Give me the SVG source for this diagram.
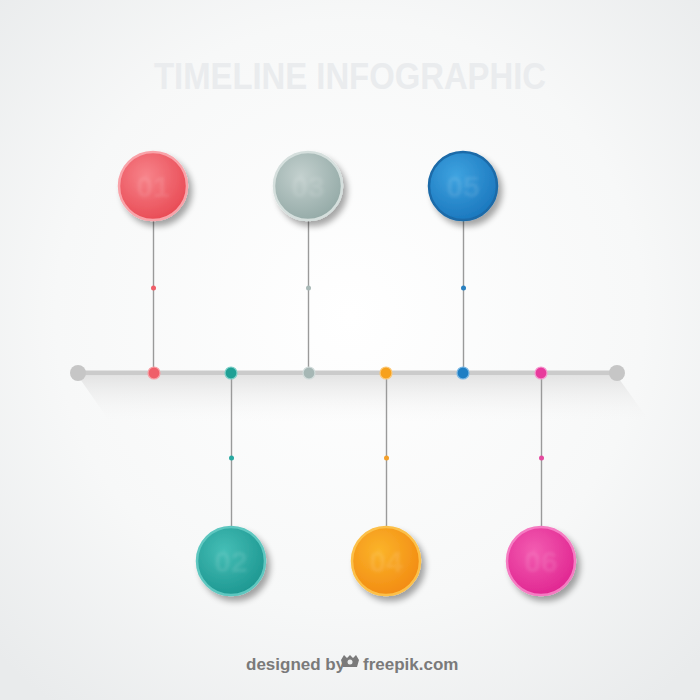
<svg xmlns="http://www.w3.org/2000/svg" width="700" height="700" viewBox="0 0 700 700">
<defs>
<radialGradient id="bg" cx="0.5" cy="0.45" r="0.7">
<stop offset="0" stop-color="#ffffff"/>
<stop offset="0.6" stop-color="#f7f8f8"/>
<stop offset="1" stop-color="#e9ebec"/>
</radialGradient>
<linearGradient id="shadowG" x1="0" y1="0" x2="0" y2="1">
<stop offset="0" stop-color="#e0e0e0"/>
<stop offset="1" stop-color="#f6f6f6" stop-opacity="0"/>
</linearGradient>
<filter id="sh" x="-30%" y="-30%" width="170%" height="170%">
<feGaussianBlur in="SourceAlpha" stdDeviation="3"/>
<feOffset dx="4" dy="5"/>
<feComponentTransfer><feFuncA type="linear" slope="0.35"/></feComponentTransfer>
<feMerge><feMergeNode/><feMergeNode in="SourceGraphic"/></feMerge>
</filter>
<filter id="blur1"><feGaussianBlur stdDeviation="1.5"/></filter>
<radialGradient id="gRed" cx="0.4" cy="0.35" r="0.7"><stop offset="0" stop-color="#f7838a"/><stop offset="1" stop-color="#e84953"/></radialGradient>
<radialGradient id="gGray" cx="0.4" cy="0.35" r="0.7"><stop offset="0" stop-color="#c3d0ce"/><stop offset="1" stop-color="#93a9a6"/></radialGradient>
<radialGradient id="gBlue" cx="0.4" cy="0.35" r="0.7"><stop offset="0" stop-color="#3ea3e0"/><stop offset="1" stop-color="#1a76bd"/></radialGradient>
<radialGradient id="gTeal" cx="0.4" cy="0.35" r="0.7"><stop offset="0" stop-color="#45beb6"/><stop offset="1" stop-color="#1c9690"/></radialGradient>
<radialGradient id="gOrange" cx="0.4" cy="0.35" r="0.7"><stop offset="0" stop-color="#fbb42a"/><stop offset="1" stop-color="#f28a12"/></radialGradient>
<radialGradient id="gPink" cx="0.4" cy="0.35" r="0.7"><stop offset="0" stop-color="#f35cb1"/><stop offset="1" stop-color="#e02490"/></radialGradient>
</defs>
<style>
.title{font-family:"Liberation Sans",Arial,sans-serif;font-weight:bold;font-size:36px;fill:#eaecee;}
.num{font-family:"Liberation Sans",Arial,sans-serif;font-weight:bold;font-size:30px;fill:#ffffff;fill-opacity:0.1;text-anchor:middle;}
.stem{stroke:#9a9a9a;stroke-width:1.4;fill:none;}
.foot{font-family:"Liberation Sans",Arial,sans-serif;font-weight:bold;font-size:17px;fill:#7a7a7a;}
.rim{stroke-width:2.5;}
</style>
<rect width="700" height="700" fill="url(#bg)"/>
<text class="title" x="350" y="89" text-anchor="middle" textLength="392" lengthAdjust="spacingAndGlyphs">TIMELINE INFOGRAPHIC</text>

<!-- timeline shadow -->
<polygon points="78,376 617,376 650,422 110,422" fill="url(#shadowG)" opacity="0.85"/>

<g id="connectors">
<line class="stem" x1="153.5" y1="220" x2="153.5" y2="373"/>
<line class="stem" x1="308.5" y1="220" x2="308.5" y2="373"/>
<line class="stem" x1="463.5" y1="220" x2="463.5" y2="373"/>
<line class="stem" x1="231.5" y1="373" x2="231.5" y2="527"/>
<line class="stem" x1="386.5" y1="373" x2="386.5" y2="527"/>
<line class="stem" x1="541.5" y1="373" x2="541.5" y2="527"/>
<circle cx="153.5" cy="288" r="2.5" fill="#ef5e68"/>
<circle cx="308.5" cy="288" r="2.5" fill="#a9b9b7"/>
<circle cx="463.5" cy="288" r="2.5" fill="#2a80c0"/>
<circle cx="231.5" cy="458" r="2.5" fill="#29a9a1"/>
<circle cx="386.5" cy="458" r="2.5" fill="#f4a02a"/>
<circle cx="541.5" cy="458" r="2.5" fill="#e44a9f"/>
</g>

<g id="timeline">
<line x1="78" y1="373" x2="617" y2="373" stroke="#cbcbcb" stroke-width="5"/>
<circle cx="78" cy="373" r="8" fill="#c6c6c6"/>
<circle cx="617" cy="373" r="8" fill="#c6c6c6"/>
<circle cx="154" cy="373" r="6" fill="#ef5f69" stroke="#f8a0a6" stroke-width="1.2"/>
<circle cx="231" cy="373" r="6" fill="#1fa095" stroke="#7fd0c8" stroke-width="1.2"/>
<circle cx="309" cy="373" r="6" fill="#a6b7b5" stroke="#d2dcdb" stroke-width="1.2"/>
<circle cx="386" cy="373" r="6" fill="#f7a11c" stroke="#fbc97a" stroke-width="1.2"/>
<circle cx="463" cy="373" r="6" fill="#1f7fc4" stroke="#7bb8e4" stroke-width="1.2"/>
<circle cx="541" cy="373" r="6" fill="#e83a9c" stroke="#f59ad0" stroke-width="1.2"/>
</g>

<g id="step01">
<circle cx="153" cy="186" r="34" fill="url(#gRed)" stroke="#f9a3a9" class="rim" filter="url(#sh)"/>
<text class="num" x="153" y="197" filter="url(#blur1)">01</text>
</g>
<g id="step03">
<circle cx="308" cy="186" r="34" fill="url(#gGray)" stroke="#d5dfdd" class="rim" filter="url(#sh)"/>
<text class="num" x="308" y="197" filter="url(#blur1)">03</text>
</g>
<g id="step05">
<circle cx="463" cy="186" r="34" fill="url(#gBlue)" stroke="#1a6aa8" class="rim" filter="url(#sh)"/>
<text class="num" x="463" y="197" filter="url(#blur1)">05</text>
</g>
<g id="step02">
<circle cx="231" cy="561" r="34" fill="url(#gTeal)" stroke="#5fc7c0" class="rim" filter="url(#sh)"/>
<text class="num" x="231" y="572" filter="url(#blur1)">02</text>
</g>
<g id="step04">
<circle cx="386" cy="561" r="34" fill="url(#gOrange)" stroke="#fcc04a" class="rim" filter="url(#sh)"/>
<text class="num" x="386" y="572" filter="url(#blur1)">04</text>
</g>
<g id="step06">
<circle cx="541" cy="561" r="34" fill="url(#gPink)" stroke="#f57cc2" class="rim" filter="url(#sh)"/>
<text class="num" x="541" y="572" filter="url(#blur1)">06</text>
</g>

<g id="footer">
<text class="foot" x="246" y="670">designed by</text>
<path d="M341,660 l3,-5 l3,3 l3,-3 l3,3 l3,-3 l3,5 l-2,7 h-14 z" fill="#7a7a7a"/>
<circle cx="350" cy="662" r="2.5" fill="#eceeee"/>
<text class="foot" x="363" y="670">freepik.com</text>
</g>
</svg>
